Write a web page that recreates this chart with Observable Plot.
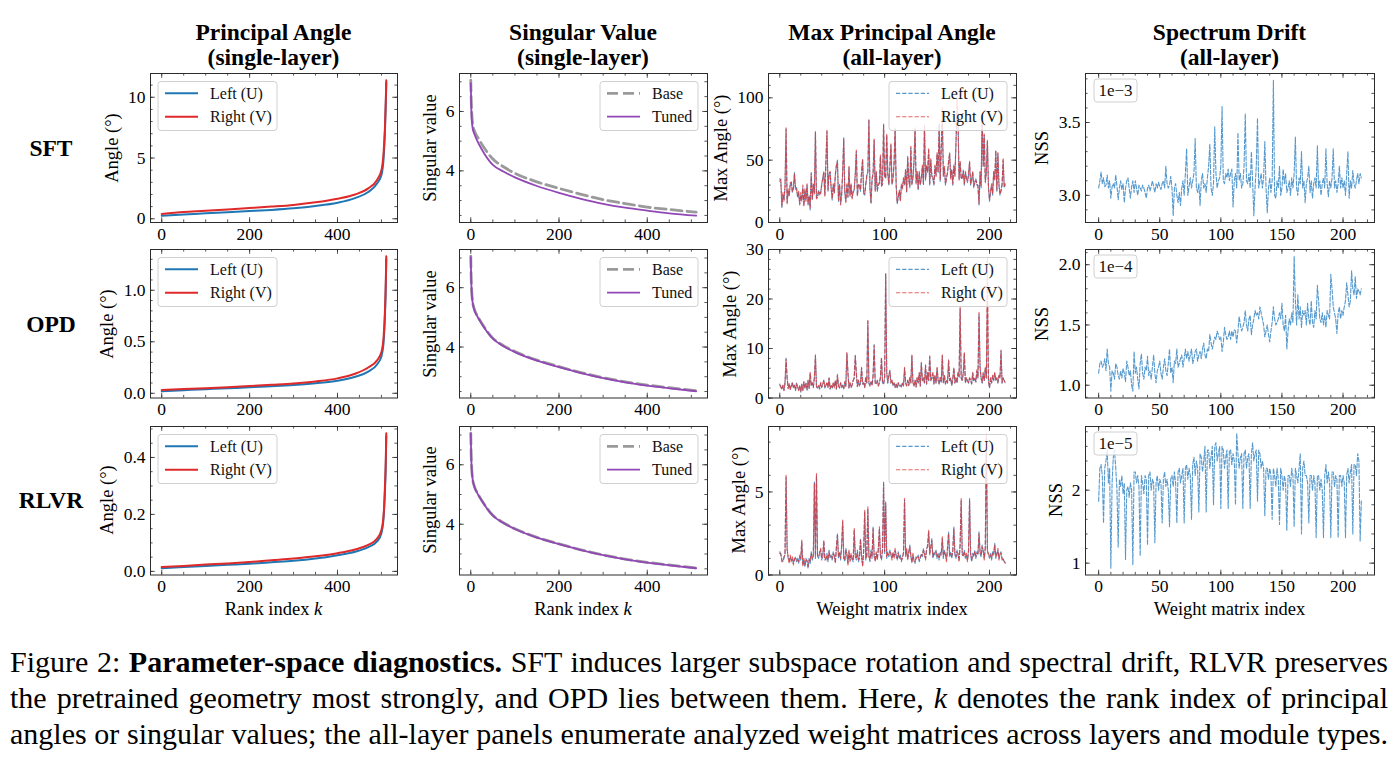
<!DOCTYPE html>
<html>
<head>
<meta charset="utf-8">
<script src="https://cdn.jsdelivr.net/npm/d3@7"></script>
<script src="https://cdn.jsdelivr.net/npm/@observablehq/plot@0.6"></script>
<style>
  body { margin: 0; background: #fff; }
  #fig { position: relative; width: 1398px; height: 771px; overflow: hidden;
         font-family: "Liberation Serif", "Times New Roman", serif; color: #000; }
  .abs { position: absolute; white-space: nowrap; }
  .title { font-weight: bold; font-size: 23.5px; line-height: 25px; text-align: center; transform: translateX(-50%); }
  .rowlab { font-weight: bold; font-size: 23.5px; transform: translate(-50%, -50%); }
  .ylab { font-size: 18.5px; line-height: 20px; transform: translate(-50%, -50%) rotate(-90deg); }
  .xlab { font-size: 18.5px; line-height: 18.5px; transform: translateX(-50%); }
  .cap { left: 10px; width: 1378px; font-size: 30px; line-height: 36px; text-align: justify;
         text-align-last: justify; white-space: normal; }
</style>
</head>
<body>
<div id="fig"></div>
<script>
// ---------- single-layer panels: principal angles (degrees) vs rank index k ----------
const rankAngle = [0, 50, 100, 150, 200, 250, 300, 350, 400, 440, 470, 490, 500, 505, 508, 510, 511];
const angleSftLeft   = [0.25, 0.36, 0.45, 0.54, 0.63, 0.73, 0.86, 1.05, 1.32, 1.70, 2.20, 2.90, 3.60, 5.00, 7.20, 9.60, 11.20];
const angleSftRight  = [0.40, 0.55, 0.65, 0.77, 0.88, 1.00, 1.14, 1.35, 1.65, 2.00, 2.50, 3.20, 4.00, 5.50, 7.50, 9.80, 11.40];
const angleOpdLeft   = [0.020, 0.030, 0.040, 0.049, 0.058, 0.068, 0.080, 0.098, 0.122, 0.160, 0.210, 0.280, 0.360, 0.500, 0.750, 1.050, 1.300];
const angleOpdRight  = [0.032, 0.041, 0.050, 0.060, 0.070, 0.082, 0.095, 0.115, 0.145, 0.190, 0.250, 0.320, 0.400, 0.550, 0.800, 1.100, 1.330];
const angleRlvrLeft  = [0.011, 0.015, 0.019, 0.023, 0.027, 0.032, 0.037, 0.045, 0.057, 0.069, 0.085, 0.105, 0.134, 0.190, 0.280, 0.380, 0.475];
const angleRlvrRight = [0.015, 0.019, 0.024, 0.028, 0.033, 0.039, 0.045, 0.053, 0.064, 0.077, 0.093, 0.115, 0.145, 0.200, 0.300, 0.400, 0.485];

// ---------- single-layer panels: singular values vs rank index k ----------
const rankSingular = [0, 1, 2, 4, 8, 15, 25, 50, 75, 100, 150, 200, 250, 300, 350, 400, 450, 511];
const svSftBase   = [7.05, 6.40, 6.00, 5.60, 5.35, 5.15, 4.90, 4.40, 4.13, 3.92, 3.63, 3.41, 3.21, 3.03, 2.90, 2.78, 2.70, 2.61];
const svSftTuned  = [6.95, 6.20, 5.80, 5.45, 5.25, 5.00, 4.72, 4.20, 3.97, 3.78, 3.49, 3.26, 3.06, 2.89, 2.76, 2.66, 2.57, 2.49];
const svOpdBase   = [7.06, 6.30, 5.90, 5.55, 5.28, 5.05, 4.80, 4.30, 4.04, 3.85, 3.56, 3.34, 3.14, 2.97, 2.83, 2.72, 2.63, 2.53];
const svOpdTuned  = [7.03, 6.28, 5.88, 5.53, 5.26, 5.03, 4.78, 4.28, 4.02, 3.83, 3.54, 3.32, 3.12, 2.95, 2.81, 2.70, 2.61, 2.51];
const svRlvrBase  = [7.06, 6.30, 5.90, 5.55, 5.28, 5.05, 4.80, 4.30, 4.04, 3.85, 3.56, 3.34, 3.14, 2.97, 2.83, 2.72, 2.63, 2.53];
const svRlvrTuned = [7.05, 6.29, 5.89, 5.54, 5.27, 5.04, 4.79, 4.29, 4.03, 3.84, 3.55, 3.33, 3.13, 2.96, 2.82, 2.71, 2.62, 2.52];

// ---------- all-layer panels: max principal angle (degrees) per weight matrix ----------
const maxAngleSftLeft = [
  33, 35, 12, 22, 18, 28, 75, 16, 25, 22, 30, 33,
  24, 28, 40, 26, 28, 20, 24, 15, 22, 18, 28, 14,
  26, 18, 30, 14, 22, 10, 40, 18, 30, 24, 72, 20,
  20, 26, 22, 24, 30, 36, 40, 22, 48, 73, 25, 40,
  40, 28, 18, 30, 24, 38, 45, 50, 17, 30, 15, 22,
  40, 68, 24, 17, 30, 20, 44, 22, 30, 20, 24, 26,
  38, 57, 22, 30, 30, 25, 40, 50, 24, 22, 30, 38,
  40, 82, 28, 15, 34, 40, 66, 26, 40, 25, 30, 32,
  53, 30, 30, 78, 38, 35, 70, 40, 30, 45, 62, 30,
  35, 48, 75, 30, 15, 20, 25, 18, 30, 28, 35, 30,
  42, 24, 52, 35, 28, 60, 30, 35, 48, 75, 32, 40,
  26, 40, 30, 36, 45, 30, 77, 35, 45, 40, 58, 30,
  50, 38, 35, 30, 45, 38, 55, 40, 78, 33, 60, 80,
  38, 44, 30, 36, 40, 48, 55, 36, 42, 30, 45, 38,
  62, 86, 80, 35, 48, 36, 35, 42, 30, 40, 36, 32,
  38, 48, 30, 35, 40, 28, 32, 35, 30, 30, 14, 40,
  28, 85, 45, 70, 33, 40, 65, 28, 17, 24, 30, 22,
  40, 35, 57, 25, 55, 30, 22, 25, 30, 50, 28, 30
];
const maxAngleSftRight = [
  35, 33, 13, 24, 17, 30, 76, 15, 27, 21, 32, 32,
  25, 27, 39, 28, 27, 21, 25, 14, 24, 17, 30, 13,
  27, 17, 31, 15, 21, 11, 39, 19, 31, 23, 73, 19,
  21, 25, 24, 23, 31, 35, 41, 21, 49, 74, 26, 39,
  41, 27, 19, 31, 23, 39, 46, 49, 18, 31, 14, 23,
  41, 67, 25, 16, 31, 21, 45, 21, 31, 19, 25, 27,
  39, 58, 21, 31, 29, 26, 41, 51, 23, 23, 31, 37,
  41, 83, 27, 16, 35, 39, 67, 25, 41, 26, 31, 31,
  54, 29, 31, 79, 37, 36, 71, 39, 31, 44, 63, 31,
  36, 47, 76, 29, 16, 21, 26, 17, 31, 27, 36, 31,
  43, 25, 53, 34, 29, 61, 31, 36, 49, 76, 31, 41,
  27, 41, 31, 35, 46, 31, 78, 34, 46, 41, 59, 31,
  51, 37, 36, 31, 46, 37, 56, 41, 79, 34, 61, 92,
  37, 45, 31, 35, 41, 49, 56, 35, 43, 31, 46, 37,
  63, 100, 81, 34, 49, 35, 36, 41, 31, 41, 35, 33,
  39, 49, 31, 34, 41, 29, 33, 34, 31, 29, 15, 41,
  29, 86, 46, 71, 32, 41, 66, 29, 18, 25, 31, 23,
  41, 34, 58, 26, 56, 31, 23, 26, 31, 51, 29, 31
];
const maxAngleOpdLeft = [
  2.8, 2.2, 1.8, 2.5, 1.6, 3.0, 8.0, 4.0, 2.0, 2.8, 1.8, 2.4,
  3.2, 2.0, 2.6, 1.5, 3.0, 2.2, 1.6, 2.4, 1.2, 2.8, 1.6, 3.2,
  2.0, 3.0, 1.6, 3.5, 2.0, 5.0, 2.4, 3.0, 2.2, 4.0, 8.5, 2.2,
  2.0, 2.6, 1.8, 3.0, 2.2, 2.8, 3.5, 2.0, 2.6, 3.0, 2.2, 4.0,
  1.8, 2.6, 2.0, 3.0, 2.2, 3.5, 1.8, 4.5, 2.5, 2.0, 3.0, 2.2,
  2.6, 1.8, 3.2, 2.4, 9.0, 5.0, 2.0, 3.0, 2.2, 2.6, 3.5, 4.0,
  8.5, 5.0, 2.4, 3.5, 2.5, 3.0, 6.0, 2.8, 3.0, 2.2, 4.0, 3.0,
  15.5, 3.0, 2.5, 3.2, 2.6, 4.5, 10.8, 3.0, 2.8, 3.5, 2.5, 3.0,
  4.0, 8.0, 3.0, 2.8, 4.0, 25.0, 5.0, 3.0, 4.5, 5.5, 3.0, 3.5,
  2.5, 3.0, 2.2, 2.8, 2.0, 3.0, 2.4, 2.6, 2.2, 3.0, 2.5, 6.0,
  3.0, 2.4, 3.5, 2.6, 4.0, 3.0, 8.5, 3.0, 2.5, 3.5, 2.2, 4.0,
  3.0, 5.0, 2.5, 7.0, 3.5, 4.0, 3.0, 6.5, 2.8, 5.0, 3.5, 8.3,
  3.5, 4.0, 5.0, 2.8, 4.5, 3.0, 6.0, 3.5, 2.8, 4.0, 3.2, 8.5,
  3.0, 4.5, 2.8, 3.5, 3.0, 7.5, 3.5, 4.0, 2.5, 3.8, 6.0, 3.0,
  4.0, 3.0, 5.0, 4.2, 18.0, 4.0, 3.5, 5.0, 9.0, 3.0, 4.0, 3.5,
  3.0, 4.0, 3.5, 2.8, 5.0, 3.5, 4.0, 3.2, 5.5, 4.0, 17.0, 6.0,
  4.0, 3.0, 5.0, 3.5, 6.0, 4.0, 19.5, 3.5, 2.0, 4.0, 3.0, 4.5,
  3.5, 5.0, 3.5, 4.0, 3.0, 4.5, 4.0, 9.5, 3.0, 4.0, 3.5, 3.0
];
const maxAngleOpdRight = [
  2.6, 2.3, 1.7, 2.6, 1.5, 3.1, 7.8, 4.2, 1.9, 2.9, 1.7, 2.5,
  3.0, 2.1, 2.5, 1.6, 2.9, 2.3, 1.5, 2.5, 1.3, 2.7, 1.5, 3.3,
  2.1, 2.9, 1.7, 3.6, 1.9, 5.2, 2.5, 3.1, 2.1, 4.2, 8.7, 2.3,
  2.1, 2.5, 1.9, 3.1, 2.1, 2.9, 3.6, 2.1, 2.5, 3.2, 2.1, 4.1,
  1.9, 2.5, 2.1, 3.1, 2.1, 3.6, 1.9, 4.8, 2.4, 2.1, 3.1, 2.1,
  2.5, 1.9, 3.3, 2.3, 9.2, 5.2, 2.1, 3.1, 2.1, 2.7, 3.6, 4.2,
  8.6, 5.1, 2.3, 3.6, 2.4, 3.1, 6.2, 2.9, 3.1, 2.1, 4.2, 3.1,
  15.8, 3.1, 2.4, 3.3, 2.5, 4.6, 10.6, 3.1, 2.9, 3.6, 2.4, 3.1,
  4.2, 8.2, 3.1, 2.9, 4.1, 25.2, 5.2, 3.1, 4.6, 5.6, 3.1, 3.6,
  2.6, 3.1, 2.1, 2.9, 2.1, 3.1, 2.5, 2.5, 2.3, 3.1, 2.4, 6.2,
  3.1, 2.5, 3.6, 2.5, 4.2, 3.1, 8.7, 3.1, 2.4, 3.6, 2.3, 4.2,
  3.1, 5.2, 2.4, 7.2, 3.6, 4.1, 3.1, 6.7, 2.9, 5.2, 3.6, 8.5,
  3.6, 4.1, 5.2, 2.9, 4.6, 3.1, 6.2, 3.6, 2.9, 4.2, 3.3, 8.7,
  3.1, 4.6, 2.9, 3.6, 3.1, 7.7, 3.6, 4.1, 2.6, 3.9, 6.2, 3.1,
  4.1, 3.1, 5.2, 4.3, 18.4, 4.1, 3.6, 5.2, 9.2, 3.1, 4.1, 3.6,
  3.1, 4.1, 3.6, 2.9, 5.2, 3.6, 4.1, 3.3, 5.7, 4.1, 17.3, 6.2,
  4.1, 3.1, 5.2, 3.6, 6.2, 4.1, 28.5, 3.6, 2.1, 4.1, 3.1, 4.6,
  3.6, 5.2, 3.6, 4.1, 3.1, 4.6, 4.1, 9.7, 3.1, 4.1, 3.6, 3.1
];
const maxAngleRlvrLeft = [
  1.4, 1.2, 0.9, 0.8, 1.0, 1.3, 5.9, 1.6, 1.0, 0.8, 1.1, 0.9,
  1.0, 0.7, 0.9, 1.1, 0.8, 1.0, 0.7, 1.2, 0.9, 2.0, 0.6, 0.9,
  0.5, 1.0, 0.8, 0.4, 1.0, 0.7, 1.4, 0.9, 1.2, 5.6, 1.0, 6.0,
  1.2, 1.0, 1.4, 1.5, 0.9, 1.2, 2.0, 1.0, 0.9, 1.3, 0.8, 1.5,
  1.0, 1.2, 0.9, 1.4, 1.1, 0.8, 1.6, 2.5, 1.0, 1.4, 0.9, 1.8,
  3.2, 1.1, 0.8, 1.6, 1.2, 0.7, 1.4, 0.9, 1.2, 1.0, 0.8, 2.7,
  1.2, 0.9, 1.5, 0.8, 1.0, 2.2, 1.1, 0.6, 1.4, 3.8, 0.9, 1.2,
  4.0, 1.2, 0.8, 1.5, 1.0, 2.9, 1.1, 0.9, 1.3, 1.0, 1.5, 2.8,
  1.2, 0.9, 1.6, 5.6, 1.3, 4.4, 1.0, 1.4, 1.1, 1.5, 1.2, 1.0,
  1.3, 1.1, 1.5, 1.2, 0.9, 1.4, 1.0, 1.2, 0.8, 1.1, 1.3, 4.5,
  1.2, 1.5, 1.0, 1.3, 1.8, 1.1, 0.8, 1.2, 0.9, 0.7, 1.1, 1.0,
  1.2, 0.8, 1.0, 1.3, 1.1, 1.6, 1.2, 1.0, 1.5, 1.8, 2.6, 1.3,
  1.6, 2.2, 1.0, 1.4, 1.2, 1.5, 1.0, 1.3, 0.9, 1.4, 1.2, 2.2,
  1.0, 1.5, 1.2, 0.9, 1.6, 2.6, 1.1, 1.4, 1.0, 1.5, 2.9, 1.2,
  1.0, 1.5, 1.2, 0.9, 1.8, 4.5, 1.3, 1.1, 1.5, 1.0, 1.2, 0.9,
  1.4, 4.6, 1.2, 0.8, 1.3, 1.1, 1.5, 1.0, 1.4, 1.2, 2.6, 1.3,
  1.1, 1.8, 1.4, 1.0, 1.6, 8.2, 1.5, 1.2, 1.0, 1.3, 0.9, 1.4,
  1.2, 1.9, 1.0, 1.3, 1.5, 1.0, 1.2, 1.4, 0.9, 1.0, 0.8, 0.75
];
const maxAngleRlvrRight = [
  1.3, 1.3, 0.8, 0.9, 1.1, 1.2, 6.0, 1.5, 1.1, 0.7, 1.2, 0.8,
  1.1, 0.6, 1.0, 1.0, 0.9, 0.9, 0.8, 1.1, 1.0, 2.1, 0.5, 1.0,
  0.6, 0.9, 0.9, 0.5, 0.9, 0.8, 1.3, 1.0, 1.1, 5.5, 1.1, 6.1,
  1.1, 1.1, 1.3, 1.6, 1.0, 1.1, 2.1, 0.9, 1.0, 1.2, 0.9, 1.4,
  1.1, 1.1, 1.0, 1.3, 1.2, 0.7, 1.7, 2.4, 1.1, 1.3, 1.0, 1.7,
  3.3, 1.0, 0.9, 1.5, 1.3, 0.6, 1.5, 0.8, 1.3, 0.9, 0.9, 2.8,
  1.1, 1.0, 1.4, 0.9, 1.1, 2.1, 1.2, 0.5, 1.5, 3.9, 1.0, 1.1,
  4.1, 1.1, 0.9, 1.4, 1.1, 2.8, 1.2, 0.8, 1.4, 0.9, 1.6, 2.9,
  1.1, 1.0, 1.5, 5.5, 1.4, 4.3, 1.1, 1.3, 1.2, 1.4, 1.3, 0.9,
  1.4, 1.0, 1.6, 1.1, 1.0, 1.3, 1.1, 1.1, 0.9, 1.0, 1.4, 4.6,
  1.1, 1.6, 0.9, 1.4, 1.7, 1.2, 0.7, 1.3, 0.8, 0.8, 1.0, 1.1,
  1.1, 0.9, 1.1, 1.2, 1.2, 1.5, 1.3, 0.9, 1.6, 1.7, 2.7, 1.2,
  1.7, 2.1, 1.1, 1.3, 1.3, 1.4, 1.1, 1.2, 1.0, 1.3, 1.3, 2.3,
  1.1, 1.4, 1.3, 0.8, 1.7, 2.5, 1.2, 1.3, 1.1, 1.4, 2.8, 1.3,
  1.1, 1.4, 1.3, 0.8, 1.9, 4.6, 1.2, 1.2, 1.4, 1.1, 1.3, 0.8,
  1.5, 4.5, 1.3, 0.9, 1.2, 1.2, 1.4, 1.1, 1.3, 1.3, 2.5, 1.4,
  1.2, 1.7, 1.5, 0.9, 1.7, 8.5, 1.4, 1.3, 1.1, 1.2, 1.0, 1.3,
  1.3, 1.8, 1.1, 1.2, 1.6, 0.9, 1.3, 1.3, 1.0, 0.9, 0.9, 0.7
];

// ---------- all-layer panels: normalized spectrum shift (NSS) per weight matrix ----------
const nssSft = [ // ×1e-3
  3.05, 3.10, 3.16, 3.08, 3.12, 3.06, 3.07, 3.14, 3.05, 3.10, 2.98, 3.06,
  3.08, 3.05, 3.14, 3.06, 2.97, 3.05, 3.10, 3.04, 3.08, 2.95, 3.05, 3.10,
  3.12, 3.05, 2.98, 3.06, 3.10, 3.02, 3.10, 3.05, 3.00, 3.07, 3.05, 3.03,
  3.07, 3.05, 3.02, 2.98, 3.05, 3.07, 3.03, 3.06, 3.10, 3.06, 3.02, 3.08,
  3.05, 3.09, 3.06, 3.04, 3.08, 3.10, 3.05, 3.20, 3.08, 3.05, 3.07, 3.13,
  3.05, 2.86, 3.05, 3.08, 3.00, 2.95, 3.02, 2.93, 3.05, 3.10, 3.00, 3.15,
  3.32, 3.00, 3.06, 3.12, 3.05, 3.10, 3.15, 3.39, 3.05, 3.02, 3.08, 2.93,
  3.10, 3.15, 3.05, 3.08, 3.02, 3.12, 3.20, 3.35, 3.05, 3.00, 3.08, 3.47,
  3.15, 3.05, 3.10, 3.12, 3.20, 3.61, 3.10, 3.08, 3.15, 3.12, 3.18, 3.10,
  3.15, 3.18, 2.92, 3.10, 3.15, 3.05, 3.43, 3.10, 3.15, 3.05, 3.08, 3.20,
  3.56, 3.10, 3.08, 3.15, 3.05, 3.30, 3.10, 2.86, 3.05, 3.20, 3.53, 3.05,
  3.10, 3.15, 3.05, 3.12, 3.37, 3.05, 2.88, 3.05, 3.12, 3.02, 3.10, 3.79,
  3.00, 2.98, 3.10, 3.05, 3.20, 3.00, 3.05, 3.18, 3.08, 3.15, 3.02, 3.05,
  3.10, 3.00, 3.12, 3.05, 3.15, 3.40, 3.05, 3.00, 3.12, 3.08, 3.30, 3.05,
  3.10, 2.95, 3.08, 3.12, 3.20, 3.02, 3.10, 2.98, 3.08, 3.12, 3.05, 3.34,
  3.05, 3.10, 3.00, 3.08, 3.12, 3.05, 3.32, 3.08, 2.99, 3.10, 3.05, 3.12,
  3.32, 3.05, 3.10, 3.02, 3.08, 3.20, 3.05, 3.12, 3.05, 3.10, 3.00, 3.15,
  3.30, 2.98, 3.10, 3.05, 3.17, 3.08, 3.05, 3.10, 3.15, 3.08, 3.15, 3.12
];
const nssOpd = [ // ×1e-4
  1.10, 1.18, 1.20, 1.15, 1.17, 1.22, 1.12, 1.30, 1.18, 1.15, 0.95, 1.12,
  1.10, 1.05, 1.18, 1.15, 1.08, 1.05, 1.12, 1.06, 1.14, 1.10, 1.03, 1.20,
  1.15, 1.08, 1.12, 1.00, 0.95, 1.28, 1.10, 1.15, 1.05, 0.97, 1.18, 1.26,
  1.10, 1.05, 1.15, 1.12, 1.24, 1.08, 1.12, 1.05, 1.15, 1.25, 1.10, 1.02,
  1.12, 1.15, 1.20, 1.10, 1.05, 1.15, 1.22, 1.12, 1.08, 1.18, 1.30, 1.10,
  1.15, 1.02, 1.20, 1.18, 1.30, 1.15, 1.18, 1.22, 1.25, 1.15, 1.22, 1.30,
  1.22, 1.28, 1.20, 1.25, 1.30, 1.18, 1.22, 1.28, 1.30, 1.20, 1.25, 1.28,
  1.22, 1.30, 1.35, 1.25, 1.22, 1.30, 1.28, 1.42, 1.35, 1.30, 1.35, 1.40,
  1.38, 1.45, 1.42, 1.38, 1.40, 1.28, 1.35, 1.48, 1.42, 1.38, 1.40, 1.45,
  1.38, 1.45, 1.40, 1.46, 1.45, 1.35, 1.45, 1.57, 1.50, 1.45, 1.48, 1.52,
  1.62, 1.50, 1.45, 1.55, 1.58, 1.42, 1.50, 1.55, 1.62, 1.58, 1.60, 1.55,
  1.65, 1.60, 1.55, 1.50, 1.40, 1.45, 1.50, 1.42, 1.36, 1.45, 1.52, 1.65,
  1.55, 1.50, 1.52, 1.55, 1.60, 1.55, 1.68, 1.50, 1.45, 1.58, 1.30, 1.45,
  1.55, 1.50, 1.60, 1.52, 2.07, 1.70, 1.50, 1.75, 1.55, 1.65, 1.48, 1.62,
  1.58, 1.62, 1.50, 1.68, 1.55, 1.50, 1.70, 1.52, 1.48, 1.62, 1.55, 1.83,
  1.70, 1.55, 1.52, 1.60, 1.50, 1.58, 1.48, 1.62, 1.58, 1.55, 1.92, 1.80,
  1.65, 1.60, 1.55, 1.43, 1.60, 1.65, 1.55, 1.62, 1.58, 1.65, 1.70, 1.85,
  1.75, 1.65, 1.70, 1.95, 1.80, 1.75, 1.90, 1.72, 1.80, 1.78, 1.75, 1.80
];
const nssRlvr = [ // ×1e-5
  1.85, 2.30, 2.35, 2.20, 1.55, 2.30, 2.40, 2.55, 2.10, 2.30, 0.93, 2.10,
  2.45, 2.55, 2.30, 2.00, 1.22, 2.15, 2.05, 2.20, 1.95, 2.10, 1.05, 2.00,
  2.05, 1.90, 2.10, 2.00, 0.98, 2.25, 2.25, 2.10, 2.20, 2.05, 1.10, 2.20,
  2.10, 1.95, 2.20, 2.15, 1.25, 2.20, 2.25, 2.00, 2.15, 2.10, 1.28, 2.10,
  2.20, 2.00, 2.15, 2.10, 1.55, 2.15, 2.25, 2.05, 2.15, 2.00, 1.50, 2.15,
  2.20, 2.05, 2.25, 2.10, 1.55, 2.25, 2.30, 2.10, 2.20, 2.30, 1.55, 2.30,
  2.35, 2.15, 2.30, 2.20, 1.60, 2.35, 2.45, 2.20, 2.40, 2.30, 1.70, 2.50,
  2.45, 2.25, 2.40, 2.60, 1.70, 2.55, 2.55, 2.30, 2.45, 2.60, 1.80, 2.60,
  2.65, 2.40, 2.50, 2.60, 1.75, 2.60, 2.55, 2.30, 2.45, 2.55, 1.75, 2.55,
  2.55, 2.35, 2.50, 2.40, 1.80, 2.78, 2.50, 2.30, 2.45, 2.50, 1.75, 2.50,
  2.55, 2.30, 2.45, 2.50, 1.75, 2.50, 2.65, 2.40, 2.50, 2.55, 1.85, 2.55,
  2.50, 2.30, 2.40, 2.30, 1.65, 2.30, 2.30, 2.15, 2.30, 2.20, 1.60, 2.30,
  2.20, 2.05, 2.30, 2.15, 1.53, 2.30, 2.20, 2.00, 2.20, 2.10, 1.45, 2.20,
  2.20, 2.05, 2.30, 2.20, 1.50, 2.30, 2.20, 2.10, 2.30, 2.50, 1.40, 2.30,
  2.40, 2.20, 2.20, 2.10, 1.55, 2.20, 2.20, 2.00, 2.20, 2.10, 1.35, 2.20,
  2.20, 2.00, 2.15, 2.00, 1.35, 2.20, 2.35, 2.10, 2.25, 2.10, 1.35, 2.25,
  2.25, 2.05, 2.20, 2.15, 1.35, 2.20, 2.20, 2.05, 2.20, 2.10, 1.35, 2.20,
  2.30, 2.10, 2.25, 2.35, 1.40, 2.35, 2.35, 2.20, 2.50, 2.40, 1.30, 1.85
];

// ---------- text ----------
const columnTitles = [["Principal Angle", "(single-layer)"], ["Singular Value", "(single-layer)"],
                      ["Max Principal Angle", "(all-layer)"], ["Spectrum Drift", "(all-layer)"]];
const rowNames = ["SFT", "OPD", "RLVR"];
const nssExponents = ["1e\u22123", "1e\u22124", "1e\u22125"];
const captionLines = [
  'Figure 2: <b>Parameter-space diagnostics.</b> SFT induces larger subspace rotation and spectral drift, RLVR preserves',
  'the pretrained geometry most strongly, and OPD lies between them. Here, <i>k</i> denotes the rank index of principal',
  'angles or singular values; the all-layer panels enumerate analyzed weight matrices across layers and module types.'
];

// ---------- styling ----------
const BLUE = "#2a7fc2", RED = "#e3302f", PURPLE = "#9147b5", GREY = "#9a9a9a", INK = "#2b2b2b";
const SERIF = '"Liberation Serif", "Times New Roman", serif';
const COLS = [{L: 150, W: 247}, {L: 459, W: 248}, {L: 768, W: 248}, {L: 1085, W: 289}];
const ROWS = [{T: 73, H: 149}, {T: 249.3, H: 148.5}, {T: 425.6, H: 148.5}];
const M = {l: 70, r: 14, t: 14, b: 46};

const fig = document.getElementById("fig");
function addDiv(cls, html, left, top) {
  const d = document.createElement("div");
  d.className = "abs " + cls;
  d.innerHTML = html;
  d.style.left = left + "px";
  d.style.top = top + "px";
  fig.appendChild(d);
  return d;
}

// matplotlib-style 5% autoscale margin
function pad(values, lo) {
  const [a, b] = d3.extent(values);
  const p = (b - a) * 0.05;
  return [lo ?? a - p, b + p];
}
const ticks = (a, b, step) => d3.range(Math.round(a / step), Math.round(b / step) + 1).map(i => +(i * step).toFixed(6));

function legendMark(box, items) {
  return () => {
    const g = d3.create("svg:g").attr("text-anchor", "start").attr("font-family", SERIF);
    g.append("rect").attr("x", box.x).attr("y", box.y).attr("width", box.w).attr("height", box.h)
      .attr("rx", 3).attr("fill", "white").attr("fill-opacity", 0.8)
      .attr("stroke", "#d0d0d0").attr("stroke-width", 1);
    items.forEach((it, j) => {
      const cy = box.y + 11.8 + j * 23.4;
      g.append("line").attr("x1", box.x + 7).attr("x2", box.x + 40).attr("y1", cy).attr("y2", cy)
        .attr("stroke", it.stroke).attr("stroke-width", it.width)
        .attr("stroke-dasharray", it.dash || null).attr("stroke-opacity", it.opacity ?? 1);
      g.append("text").attr("x", box.x + 52).attr("y", cy).attr("dy", "0.34em")
        .attr("font-size", 16).attr("fill", "#111").text(it.label);
    });
    return g.node();
  };
}
function offsetBox(label) {
  return () => {
    const g = d3.create("svg:g").attr("font-family", SERIF);
    g.append("rect").attr("x", M.l + 9).attr("y", M.t + 6).attr("width", 43).attr("height", 23)
      .attr("rx", 3).attr("fill", "white").attr("fill-opacity", 0.8).attr("stroke", "#d0d0d0");
    g.append("text").attr("x", M.l + 30.5).attr("y", M.t + 17.5).attr("dy", "0.34em")
      .attr("text-anchor", "middle").attr("font-size", 17).attr("fill", "#111").text(label);
    return g.node();
  };
}

function panel(c, r, cfg) {
  const {L, W} = COLS[c], {T, H} = ROWS[r];
  const [x0, x1] = cfg.xDomain, [y0, y1] = cfg.yDomain;
  const inX = v => v >= x0 - 1e-9 && v <= x1 + 1e-9, inY = v => v >= y0 - 1e-9 && v <= y1 + 1e-9;
  const xMaj = ticks(0, x1, cfg.xStep).filter(inX), xMin = ticks(0, x1, cfg.xStep / cfg.xDiv).filter(inX);
  const yMaj = ticks(Math.floor(y0 / cfg.yStep) * cfg.yStep, y1, cfg.yStep).filter(inY);
  const yMin = ticks(Math.floor(y0 / cfg.yStep) * cfg.yStep, y1, cfg.yStep / cfg.yDiv).filter(inY);
  const tk = {stroke: INK, strokeWidth: 0.8};
  const marks = [
    Plot.ruleX(xMin, {x: d => d, insetTop: H - 2.6, ...tk}),
    Plot.ruleX(xMin, {x: d => d, insetBottom: H - 2.6, ...tk}),
    Plot.ruleX(xMaj, {x: d => d, insetTop: H - 4.8, ...tk}),
    Plot.ruleX(xMaj, {x: d => d, insetBottom: H - 4.8, ...tk}),
    Plot.ruleY(yMin, {y: d => d, insetRight: W - 2.6, ...tk}),
    Plot.ruleY(yMin, {y: d => d, insetLeft: W - 2.6, ...tk}),
    Plot.ruleY(yMaj, {y: d => d, insetRight: W - 4.8, ...tk}),
    Plot.ruleY(yMaj, {y: d => d, insetLeft: W - 4.8, ...tk}),
    ...cfg.lines,
    Plot.frame({stroke: INK, strokeWidth: 1}),
    Plot.axisX({ticks: xMaj, tickSize: 0, tickPadding: 5, tickFormat: d3.format("d"), label: null, fill: "#000"}),
    Plot.axisY({ticks: yMaj, tickSize: 0, tickPadding: 5, tickFormat: d3.format(cfg.yFmt), label: null, fill: "#000"})
  ];
  if (cfg.legend) marks.push(legendMark(cfg.legend.box, cfg.legend.items));
  if (cfg.offset) marks.push(offsetBox(cfg.offset));
  const svg = Plot.plot({
    width: W + M.l + M.r, height: H + M.t + M.b,
    marginLeft: M.l, marginRight: M.r, marginTop: M.t, marginBottom: M.b,
    x: {domain: cfg.xDomain, label: null},
    y: {domain: cfg.yDomain, label: null},
    style: `background: transparent; overflow: visible; max-width: none; color: #000; font-family: ${SERIF}; font-size: 17.5px;`,
    marks
  });
  svg.style.position = "absolute";
  svg.style.left = (L - M.l) + "px";
  svg.style.top = (T - M.t) + "px";
  fig.appendChild(svg);
  addDiv("ylab", cfg.ylabel, L - cfg.ylabelOffset, T + H / 2);
  if (r === 2) addDiv("xlab", cfg.xlabel, L + W / 2, 599.5);
}

const rankDomain = pad([0, 511]);
const matrixDomain = pad([0, 215]);

// column 1: principal angles
const angleRows = [[angleSftLeft, angleSftRight, 38], [angleOpdLeft, angleOpdRight, 43], [angleRlvrLeft, angleRlvrRight, 43]];
const angleTicks = [[5, 5, "d"], [0.5, 5, ".1f"], [0.2, 4, ".1f"]];
angleRows.forEach(([u, v, off], r) => {
  panel(0, r, {
    xDomain: rankDomain, xStep: 200, xDiv: 4,
    yDomain: pad(u.concat(v)), yStep: angleTicks[r][0], yDiv: angleTicks[r][1], yFmt: angleTicks[r][2],
    lines: [
      Plot.line(rankAngle, {x: d => d, y: u, stroke: "#1f77b4", strokeWidth: 2, curve: "monotone-x", clip: true}),
      Plot.line(rankAngle, {x: d => d, y: v, stroke: "#e02a2a", strokeWidth: 2, curve: "monotone-x", clip: true})
    ],
    legend: {box: {x: M.l + 8, y: M.t + 8.5, w: 119, h: 49},
             items: [{label: "Left (U)", stroke: "#1f77b4", width: 2}, {label: "Right (V)", stroke: "#e02a2a", width: 2}]},
    ylabel: "Angle (°)", ylabelOffset: off, xlabel: "Rank index <i>k</i>"
  });
});

// column 2: singular values
const svRows = [[svSftBase, svSftTuned], [svOpdBase, svOpdTuned], [svRlvrBase, svRlvrTuned]];
svRows.forEach(([base, tuned], r) => {
  const W = COLS[1].W;
  panel(1, r, {
    xDomain: rankDomain, xStep: 200, xDiv: 4,
    yDomain: pad(base.concat(tuned)), yStep: 2, yDiv: 4, yFmt: "d",
    lines: [
      Plot.line(rankSingular, {x: d => d, y: base, stroke: GREY, strokeWidth: 2.8, strokeDasharray: "11,5", curve: "monotone-x", clip: true}),
      Plot.line(rankSingular, {x: d => d, y: tuned, stroke: PURPLE, strokeWidth: 1.8, curve: "monotone-x", clip: true})
    ],
    legend: {box: {x: M.l + W - 107, y: M.t + 8.5, w: 98, h: 49},
             items: [{label: "Base", stroke: GREY, width: 2.8, dash: "11,5"}, {label: "Tuned", stroke: PURPLE, width: 1.8}]},
    ylabel: "Singular value", ylabelOffset: 29.5, xlabel: "Rank index <i>k</i>"
  });
});

// column 3: max principal angle per weight matrix
const maxRows = [[maxAngleSftLeft, maxAngleSftRight, 119.5, 50, 5, 47],
                 [maxAngleOpdLeft, maxAngleOpdRight, 30, 10, 5, 38],
                 [maxAngleRlvrLeft, maxAngleRlvrRight, 8.94, 5, 5, 29]];
maxRows.forEach(([u, v, top, step, div, off], r) => {
  const W = COLS[2].W;
  const dash = "4.2,2";
  panel(2, r, {
    xDomain: matrixDomain, xStep: 100, xDiv: 5,
    yDomain: [0, top], yStep: step, yDiv: div, yFmt: "d",
    lines: [
      Plot.line(u, {x: (d, i) => i, y: d => d, stroke: BLUE, strokeWidth: 1.15, strokeDasharray: dash, strokeOpacity: 0.8, clip: true}),
      Plot.line(v, {x: (d, i) => i, y: d => d, stroke: RED, strokeWidth: 1.15, strokeDasharray: dash, strokeOpacity: 0.75, clip: true})
    ],
    legend: {box: {x: M.l + W - 127, y: M.t + 8.5, w: 118, h: 49},
             items: [{label: "Left (U)", stroke: BLUE, width: 1.15, dash, opacity: 0.8},
                     {label: "Right (V)", stroke: RED, width: 1.15, dash, opacity: 0.75}]},
    ylabel: "Max Angle (°)", ylabelOffset: off, xlabel: "Weight matrix index"
  });
});

// column 4: spectrum drift (NSS) per weight matrix
const nssRows = [[nssSft, 0.5, 5, ".1f", 43], [nssOpd, 0.5, 5, ".1f", 43], [nssRlvr, 1, 5, "d", 29]];
nssRows.forEach(([s, step, div, fmt, off], r) => {
  panel(3, r, {
    xDomain: matrixDomain, xStep: 50, xDiv: 5,
    yDomain: pad(s), yStep: step, yDiv: div, yFmt: fmt,
    lines: [
      Plot.line(s, {x: (d, i) => i, y: d => d, stroke: BLUE, strokeWidth: 1.1, strokeDasharray: "4.2,1.8", strokeOpacity: 0.8, clip: true})
    ],
    offset: nssExponents[r],
    ylabel: "NSS", ylabelOffset: off, xlabel: "Weight matrix index"
  });
});

// column titles, row labels, caption
columnTitles.forEach((t, c) => addDiv("title", t.join("<br>"), COLS[c].L + COLS[c].W / 2, 20));
rowNames.forEach((name, r) => addDiv("rowlab", name, 51, ROWS[r].T + ROWS[r].H / 2));
captionLines.forEach((line, i) => addDiv("cap", line, 10, 644 + 36 * i));
</script>
</body>
</html>
